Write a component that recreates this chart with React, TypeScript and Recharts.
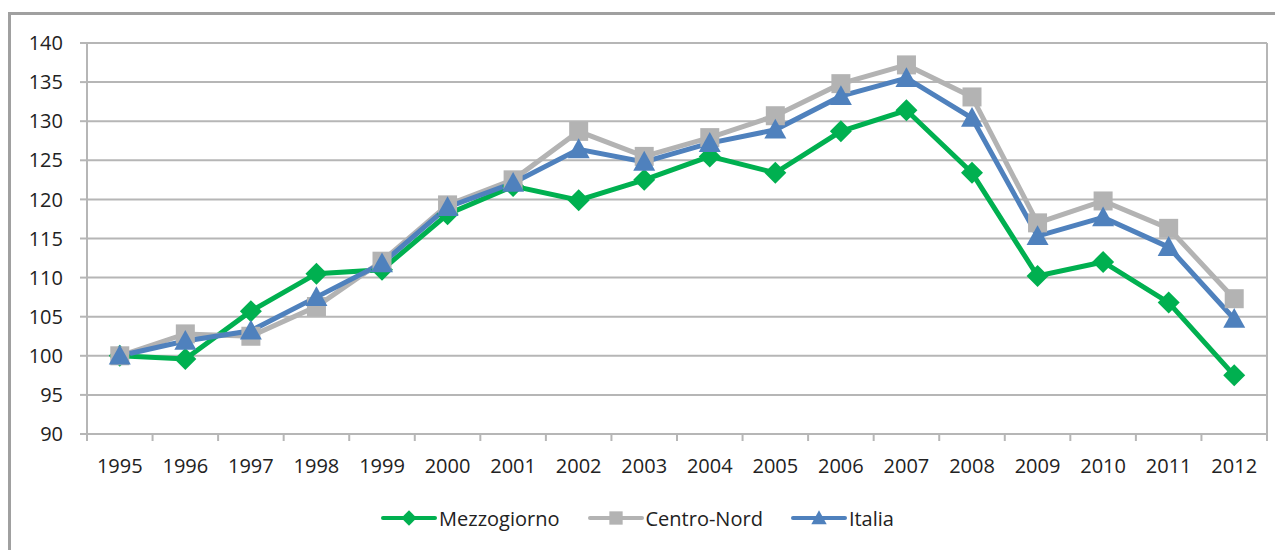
import { LineChart, Line, XAxis, YAxis, CartesianGrid, Legend } from 'recharts'

// valori indice 1995 = 100
const years = ['1995', '1996', '1997', '1998', '1999', '2000', '2001', '2002', '2003', '2004', '2005', '2006', '2007', '2008', '2009', '2010', '2011', '2012']
const mezzogiorno = [100, 99.6, 105.7, 110.5, 111, 118.1, 121.7, 119.9, 122.5, 125.5, 123.4, 128.7, 131.4, 123.4, 110.2, 112, 106.8, 97.5]
const centroNord = [100, 102.8, 102.5, 106.3, 112.1, 119.3, 122.5, 128.7, 125.5, 127.9, 130.7, 134.8, 137.2, 133.1, 117, 119.8, 116.3, 107.3]
const italia = [100, 101.9, 103.2, 107.5, 111.8, 119, 122.1, 126.4, 124.8, 127.2, 128.9, 133.2, 135.5, 130.4, 115.3, 117.7, 113.9, 104.7]
const yTicks = [90, 95, 100, 105, 110, 115, 120, 125, 130, 135, 140]
const seriesOrder = ['Mezzogiorno', 'Centro-Nord', 'Italia']

const GREEN = '#00b050'
const GRAY = '#b3b3b3'
const BLUE = '#4f81bd'
const AXIS = '#b6b6b6'
const TEXT = '#222222'
const FONT = '"Open Sans", sans-serif'

const data = years.map((year, i) => ({
  idx: i,
  year,
  Mezzogiorno: mezzogiorno[i],
  'Centro-Nord': centroNord[i],
  Italia: italia[i],
}))

// tick a metà tra le categorie (segni) + tick interi (etichette)
const xTicks = [...years.flatMap((_, i) => [i - 0.5, i]), years.length - 0.5]

function Marker({ shape, cx, cy, s, color }: any) {
  if (shape === 'diamond') {
    return <path d={`M${cx},${cy - s} L${cx + s},${cy} L${cx},${cy + s} L${cx - s},${cy} Z`} fill={color} />
  }
  if (shape === 'square') {
    return <rect x={cx - s} y={cy - s} width={s * 2} height={s * 2} fill={color} />
  }
  return <path d={`M${cx},${cy - s} L${cx + s},${cy + s * 0.8} L${cx - s},${cy + s * 0.8} Z`} fill={color} />
}

const shapes: Record<string, string> = { Mezzogiorno: 'diamond', 'Centro-Nord': 'square', Italia: 'triangle' }
const sizes: Record<string, number> = { diamond: 11, square: 9.5, triangle: 11 }

function XTick({ x, y, payload }: any) {
  const v = payload.value
  if (!Number.isInteger(v)) {
    return <line x1={x} x2={x} y1={y} y2={y + 7} stroke={AXIS} strokeWidth={2} />
  }
  return (
    <text x={x} y={y + 39} textAnchor="middle" fontSize={20} fontFamily={FONT} fill={TEXT}>
      {years[v]}
    </text>
  )
}

function LegendContent({ payload }: any) {
  const items = [...(payload || [])].sort((a: any, b: any) => seriesOrder.indexOf(a.value) - seriesOrder.indexOf(b.value))
  return (
    <div style={{ height: 40, display: 'flex', alignItems: 'center', justifyContent: 'center', gap: 28, fontFamily: FONT, fontSize: 20, color: TEXT }}>
      {items.map((p: any) => {
        const shape = shapes[p.value]
        return (
          <div key={p.value} style={{ display: 'flex', alignItems: 'center' }}>
            <svg width={56} height={20} style={{ marginRight: 2 }}>
              <line x1={2} x2={54} y1={10} y2={10} stroke={p.color} strokeWidth={4} strokeLinecap="round" />
              <Marker shape={shape} cx={28} cy={10} s={sizes[shape] * 0.7} color={p.color} />
            </svg>
            <span>{p.value}</span>
          </div>
        )
      })}
    </div>
  )
}

function dotFor(name: string, color: string) {
  const shape = shapes[name]
  return (p: any) => <Marker key={`${name}-${p.index}`} shape={shape} cx={p.cx} cy={p.cy} s={sizes[shape]} color={color} />
}

export default function App() {
  return (
    <div style={{ position: 'relative', width: 1275, height: 542, overflow: 'hidden' }}>
      <div style={{ position: 'absolute', left: 0, top: 4, width: 2000, height: 1000, borderTop: '3px solid #a0a0a0', borderLeft: '3px solid #a0a0a0' }} />
      <div style={{ position: 'absolute', left: 0, top: 0 }}>
        <LineChart width={1275} height={542} data={data} margin={{ top: 35, right: 16, left: 0, bottom: 12 }}>
          <CartesianGrid
            stroke={AXIS}
            strokeWidth={2}
            vertical={true}
            verticalCoordinatesGenerator={({ offset }: any) => [offset.left + offset.width]}
          />
          <XAxis
            dataKey="idx"
            type="number"
            domain={[-0.5, years.length - 0.5]}
            ticks={xTicks}
            interval={0}
            tick={<XTick />}
            tickLine={false}
            tickSize={0}
            tickMargin={0}
            height={64}
            axisLine={{ stroke: AXIS, strokeWidth: 2 }}
          />
          <YAxis
            domain={[90, 140]}
            ticks={yTicks}
            interval={0}
            width={79}
            tickSize={7}
            tickMargin={17}
            axisLine={{ stroke: AXIS, strokeWidth: 2 }}
            tickLine={{ stroke: AXIS, strokeWidth: 2 }}
            tick={{ fontSize: 20, fontFamily: FONT, fill: TEXT }}
          />
          <Legend verticalAlign="bottom" content={<LegendContent />} />
          <Line dataKey="Mezzogiorno" stroke={GREEN} strokeWidth={5} dot={dotFor('Mezzogiorno', GREEN)} isAnimationActive={false} />
          <Line dataKey="Centro-Nord" stroke={GRAY} strokeWidth={5} dot={dotFor('Centro-Nord', GRAY)} isAnimationActive={false} />
          <Line dataKey="Italia" stroke={BLUE} strokeWidth={5} dot={dotFor('Italia', BLUE)} isAnimationActive={false} />
        </LineChart>
      </div>
    </div>
  )
}
